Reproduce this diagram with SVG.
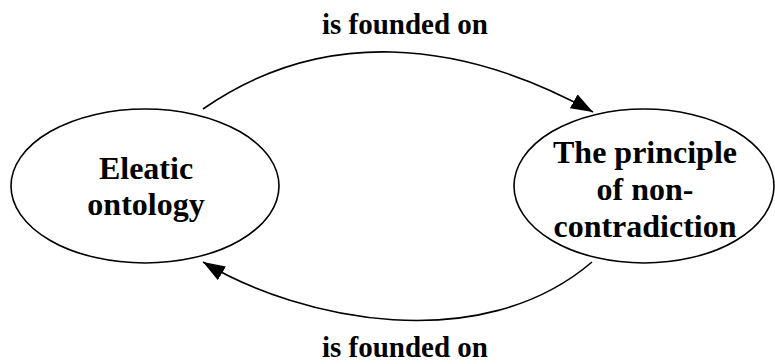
<svg xmlns="http://www.w3.org/2000/svg" width="775" height="364" viewBox="0 0 775 364">
<style>
.node ellipse{fill:#fff;stroke:#000;stroke-width:1.6}
.node text{font-family:"Liberation Serif","Times New Roman",serif;font-weight:bold;font-size:32px;text-anchor:middle;fill:#000}
.lbl{font-family:"Liberation Serif","Times New Roman",serif;font-weight:bold;font-size:29px;text-anchor:middle;fill:#000}
.edge{fill:none;stroke:#000;stroke-width:1.6}
</style>
<defs>
<marker id="arr" markerUnits="userSpaceOnUse" markerWidth="24" markerHeight="18" refX="22" refY="8" orient="auto">
<path d="M0,0 L22,8 L0,16 Z" fill="#000"/>
</marker>
</defs>
<rect width="775" height="364" fill="#fff"/>
<g id="connectors">
<path class="edge" d="M203,109 C321,27 459,38 593,112" marker-end="url(#arr)"/>
<path class="edge" d="M592,262 C481,357 302,321 203,262" marker-end="url(#arr)"/>
<text class="lbl" x="405" y="34">is founded on</text>
<text class="lbl" x="405" y="357">is founded on</text>
</g>
<g id="eleatic" class="node">
<ellipse cx="145" cy="186" rx="134" ry="77"/>
<text x="146" y="179">Eleatic</text>
<text x="146" y="215">ontology</text>
</g>
<g id="pnc" class="node">
<ellipse cx="644" cy="186" rx="130" ry="77"/>
<text x="645" y="163">The principle</text>
<text x="645" y="200">of non-</text>
<text x="645" y="237">contradiction</text>
</g>
</svg>
